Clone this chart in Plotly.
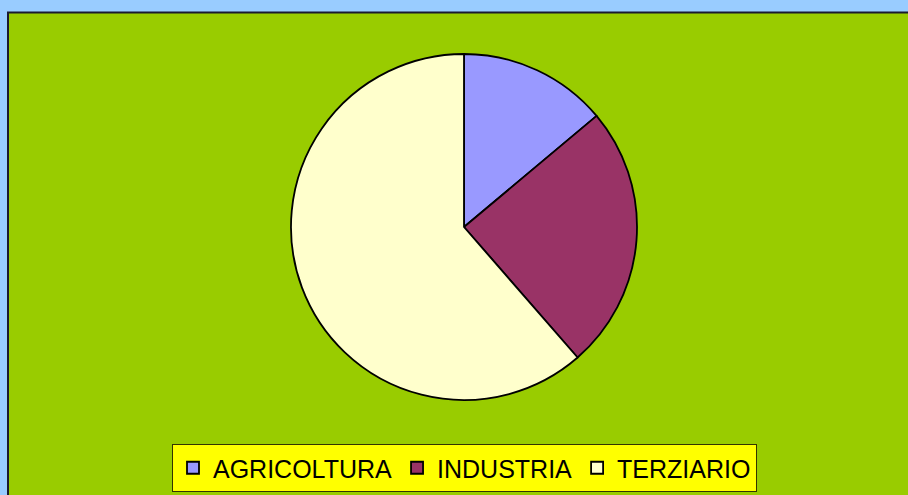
import plotly.graph_objects as go

W, H = 908, 495
sectors = ["AGRICOLTURA", "INDUSTRIA", "TERZIARIO"]
shares = [13.9, 24.7, 61.4]
colors = ["#9999FF", "#993366", "#FFFFCC"]

fig = go.Figure()
fig.add_trace(go.Pie(
    labels=sectors, values=shares, sort=False, direction="clockwise", rotation=0,
    marker=dict(colors=colors, line=dict(color="#000000", width=1.8)),
    textinfo="none", hoverinfo="label+percent",
    domain=dict(x=[291/W, 637/W], y=[1-400/H, 1-54/H]),
))

fig.update_layout(
    width=W, height=H,
    margin=dict(l=0, r=0, t=0, b=0),
    paper_bgcolor="#99CCFF",
    font=dict(family="Liberation Sans, Arial, sans-serif", color="#000000"),
    shapes=[dict(type="rect", xref="paper", yref="paper",
                 x0=8/W, x1=1.05, y0=-0.05, y1=1-12.5/H,
                 fillcolor="#99CC00", line=dict(color="#1a1a2e", width=2), layer="below")],
    legend=dict(orientation="h", x=464.5/W, y=1-444/H, xanchor="center", yanchor="top",
                bgcolor="#FFFF00", bordercolor="#333300", borderwidth=1,
                font=dict(size=25, color="#000000"), itemwidth=30,
                traceorder="normal"),
    showlegend=True,
)
fig.write_html("out.html", config={"displayModeBar": False},
               post_script="document.body.style.margin='0';document.body.style.overflow='hidden';")
